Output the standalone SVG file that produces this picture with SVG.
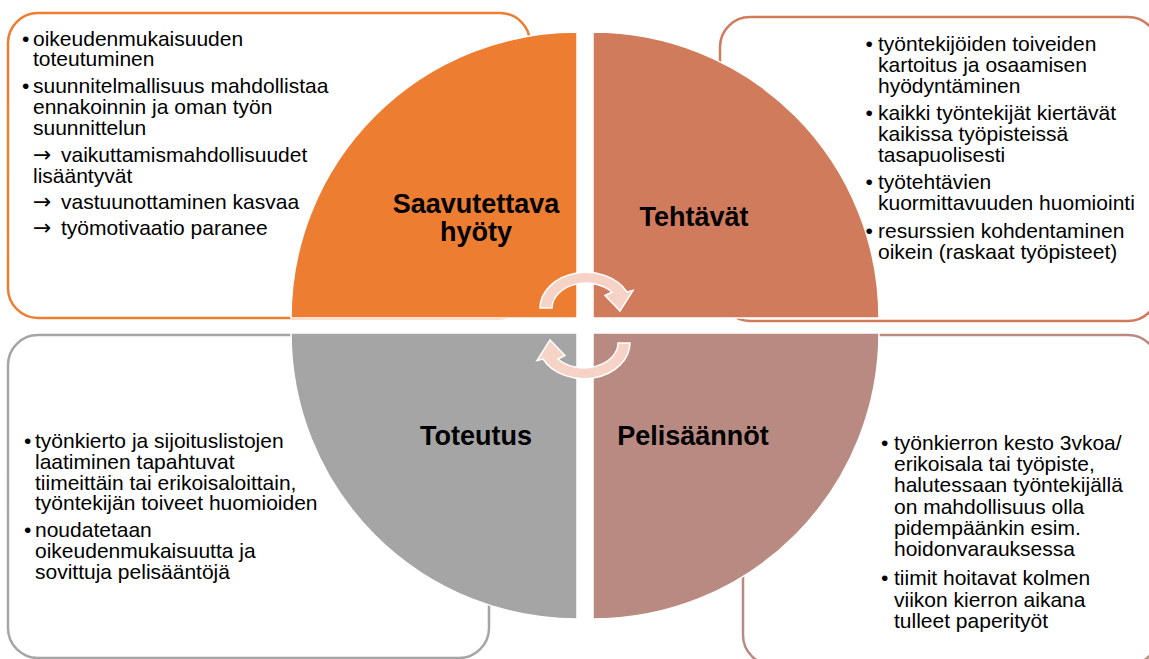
<svg xmlns="http://www.w3.org/2000/svg" width="1149" height="659" viewBox="0 0 1149 659">
  <style>
    .box { fill: #FFFFFF; stroke-width: 2.5; }
    .quad { stroke: #FFFFFF; stroke-width: 1.5; }
    .title { font-family: "Liberation Sans", Arial, sans-serif; font-size: 27px; font-weight: bold; fill: #000000; text-anchor: middle; }
    .body { font-family: "Liberation Sans", Arial, sans-serif; font-size: 21px; fill: #000000; }
    .arrow { font-family: "DejaVu Sans", sans-serif; font-size: 22px; }
    .cycle { fill: #F6D3C6; stroke: #FFFFFF; stroke-width: 1.5; stroke-linejoin: miter; }
  </style>
  <defs>
    <!-- curved cycle arrow, bent over the top and pointing down on the right -->
    <path id="cycleArrow" d="M 540,308 A 46 36 0 0 1 627,292 L 633,290.5 L 620,311 L 605,295.5 L 612,292 A 34 25 0 0 0 552,308 Z"/>
  </defs>

  <rect width="1149" height="659" fill="#FFFFFF"/>

  <!-- text panels behind the circle -->
  <rect class="box" x="8" y="13" width="522" height="305" rx="30" stroke="#ED7D31"/>
  <rect class="box" x="720" y="17" width="438" height="304" rx="30" stroke="#D17B5D"/>
  <rect class="box" x="8" y="335" width="481" height="323" rx="30" stroke="#A5A5A5"/>
  <rect class="box" x="743" y="335" width="415" height="330" rx="30" stroke="#B98A82"/>

  <!-- quadrant: Saavutettava hyöty -->
  <g id="saavutettava-hyoty">
    <path class="quad" fill="#ED7D31" d="M 577,318 L 291,318 A 286 286 0 0 1 577,32 Z"/>
    <text class="title" x="476" y="213">Saavutettava</text>
    <text class="title" x="476" y="241">hyöty</text>
    <g class="body">
      <text x="22" y="45.5">•</text>
      <text x="33" y="45.5">oikeudenmukaisuuden</text>
      <text x="33" y="66">toteutuminen</text>
      <text x="22" y="92.5">•</text>
      <text x="33" y="92.5">suunnitelmallisuus mahdollistaa</text>
      <text x="33" y="113.5">ennakoinnin ja oman työn</text>
      <text x="33" y="135">suunnittelun</text>
      <text class="arrow" x="33" y="161.5">→</text>
      <text x="61" y="161.5">vaikuttamismahdollisuudet</text>
      <text x="33" y="182.5">lisääntyvät</text>
      <text class="arrow" x="33" y="209">→</text>
      <text x="61" y="209">vastuunottaminen kasvaa</text>
      <text class="arrow" x="33" y="235">→</text>
      <text x="61" y="235">työmotivaatio paranee</text>
    </g>
  </g>

  <!-- quadrant: Tehtävät -->
  <g id="tehtavat">
    <path class="quad" fill="#D17B5D" d="M 593,318 L 593,32 A 286 286 0 0 1 879,318 Z"/>
    <text class="title" x="694" y="226">Tehtävät</text>
    <g class="body">
      <text x="865.5" y="50.5">•</text>
      <text x="878" y="50.5">työntekijöiden toiveiden</text>
      <text x="878" y="71.5">kartoitus ja osaamisen</text>
      <text x="878" y="92.5">hyödyntäminen</text>
      <text x="865.5" y="120">•</text>
      <text x="878" y="120">kaikki työntekijät kiertävät</text>
      <text x="878" y="140.5">kaikissa työpisteissä</text>
      <text x="878" y="161.5">tasapuolisesti</text>
      <text x="865.5" y="188.5">•</text>
      <text x="878" y="188.5">työtehtävien</text>
      <text x="878" y="210">kuormittavuuden huomiointi</text>
      <text x="865.5" y="238">•</text>
      <text x="878" y="238">resurssien kohdentaminen</text>
      <text x="878" y="259">oikein (raskaat työpisteet)</text>
    </g>
  </g>

  <!-- quadrant: Toteutus -->
  <g id="toteutus">
    <path class="quad" fill="#A5A5A5" d="M 577,333 L 577,619 A 286 286 0 0 1 291,333 Z"/>
    <text class="title" x="476" y="445">Toteutus</text>
    <g class="body">
      <text x="24" y="447.5">•</text>
      <text x="35" y="447.5">työnkierto ja sijoituslistojen</text>
      <text x="35" y="468.5">laatiminen tapahtuvat</text>
      <text x="35" y="489.5">tiimeittäin tai erikoisaloittain,</text>
      <text x="35" y="510">työntekijän toiveet huomioiden</text>
      <text x="24" y="536.5">•</text>
      <text x="35" y="536.5">noudatetaan</text>
      <text x="35" y="557.5">oikeudenmukaisuutta ja</text>
      <text x="35" y="578.5">sovittuja pelisääntöjä</text>
    </g>
  </g>

  <!-- quadrant: Pelisäännöt -->
  <g id="pelisaannot">
    <path class="quad" fill="#B98A82" d="M 593,333 L 879,333 A 286 286 0 0 1 593,619 Z"/>
    <text class="title" x="693" y="445">Pelisäännöt</text>
    <g class="body">
      <text x="881" y="450">•</text>
      <text x="894" y="450">työnkierron kesto 3vkoa/</text>
      <text x="894" y="471">erikoisala tai työpiste,</text>
      <text x="894" y="492">halutessaan työntekijällä</text>
      <text x="894" y="513.5">on mahdollisuus olla</text>
      <text x="894" y="535">pidempäänkin esim.</text>
      <text x="894" y="556">hoidonvarauksessa</text>
      <text x="881" y="585">•</text>
      <text x="894" y="585">tiimit hoitavat kolmen</text>
      <text x="894" y="606.5">viikon kierron aikana</text>
      <text x="894" y="628">tulleet paperityöt</text>
    </g>
  </g>

  <!-- cycle arrows in the middle -->
  <g id="connectors">
    <use href="#cycleArrow" class="cycle"/>
    <use href="#cycleArrow" class="cycle" transform="rotate(180 585 325.5)"/>
  </g>
</svg>
